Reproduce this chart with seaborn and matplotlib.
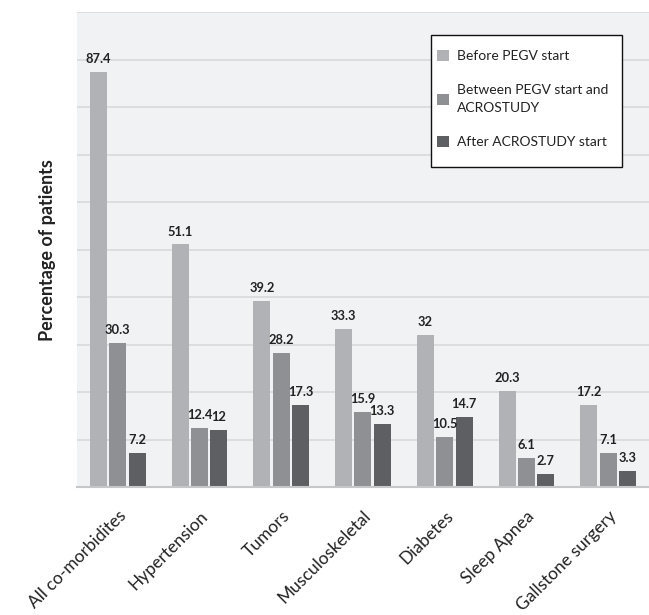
import matplotlib
matplotlib.use("Agg")
import matplotlib.pyplot as plt
import seaborn as sns
import pandas as pd
from matplotlib.patches import Patch, Rectangle

categories = ["All co-morbidites", "Hypertension", "Tumors", "Musculoskeletal",
              "Diabetes", "Sleep Apnea", "Gallstone surgery"]
before_pegv = [87.4, 51.1, 39.2, 33.3, 32, 20.3, 17.2]
between_pegv_acro = [30.3, 12.4, 28.2, 15.9, 10.5, 6.1, 7.1]
after_acro = [7.2, 12, 17.3, 13.3, 14.7, 2.7, 3.3]
series_names = ["Before PEGV start", "Between PEGV start and\nACROSTUDY",
                "After ACROSTUDY start"]
colors = ["#b1b2b6", "#8f9094", "#5e5f63"]

rows = []
for name, vals in zip(series_names, [before_pegv, between_pegv_acro, after_acro]):
    for cat, v in zip(categories, vals):
        rows.append({"category": cat, "period": name, "value": v})
df = pd.DataFrame(rows)

sns.set_theme(style="white")
plt.rcParams["font.family"] = ["Lato", "DejaVu Sans"]

fig = plt.figure(figsize=(6.49, 6.15), dpi=100)
ax = fig.add_axes([0.1186, 0.208, 0.8814, 0.772])
ax.set_facecolor("#f1f2f4")

sns.barplot(data=df, x="category", y="value", hue="period",
            hue_order=series_names, palette=colors, order=categories,
            width=0.71, gap=0.12, dodge=True, ax=ax, legend=False,
            saturation=1, linewidth=0, zorder=3)

ax.set_ylim(0, 100)
ax.set_xlim(-0.5, len(categories) - 0.5)
ax.set_yticks(range(0, 101, 10))
ax.set_yticklabels([])
ax.tick_params(axis="y", length=0, pad=0)
ax.tick_params(axis="x", length=0, pad=15)
ax.yaxis.grid(True, color="#d8d9db", linewidth=1.2, zorder=0)
ax.set_axisbelow(True)
for side in ["top", "right", "left"]:
    ax.spines[side].set_visible(False)
ax.spines["bottom"].set_color("#c6c7c9")
ax.spines["bottom"].set_linewidth(1.5)
ax.spines["bottom"].set_zorder(4)

ax.set_xlabel("")
ax.set_ylabel("Percentage of patients", fontsize=13, fontweight="bold",
              color="#222222", labelpad=15)
ax.set_xticks(range(len(categories)))
ax.set_xticklabels(categories, rotation=45, ha="right", va="top",
                   rotation_mode="anchor", fontsize=12.5, color="#222222")

def fmt(v):
    return f"{v:g}"

for container in ax.containers:
    ax.bar_label(container, labels=[fmt(b.get_height()) for b in container],
                 padding=5, fontsize=9.3, fontweight="bold", color="#222222")

# legend box drawn separately so the padding can differ per side
ax.add_patch(Rectangle((0.619, 0.6737), 0.334, 0.278, transform=ax.transAxes,
                       facecolor="white", edgecolor="#111111", linewidth=1.0,
                       zorder=5))
handles = [Patch(facecolor=c, edgecolor="none") for c in colors]
leg = ax.legend(handles, series_names, loc="upper left",
                bbox_to_anchor=(0.629, 0.921), frameon=False,
                fontsize=10, labelspacing=1.55, handlelength=0.9,
                handleheight=0.9, handletextpad=0.55, borderpad=0,
                borderaxespad=0)
leg.set_zorder(6)
for t in leg.get_texts():
    t.set_color("#222222")
    t.set_linespacing(1.65)

fig.savefig("out.png", dpi=100, facecolor="white")
